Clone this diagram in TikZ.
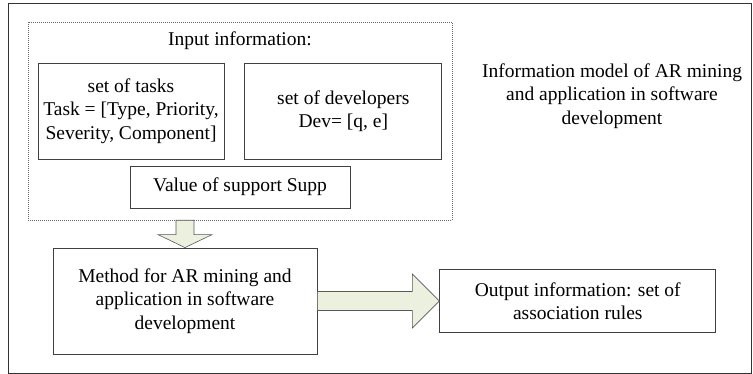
\documentclass[tikz,border=0pt]{standalone}
\usepackage{fontspec}
\setmainfont{Liberation Serif}
\usetikzlibrary{positioning,calc}
\definecolor{arrowfill}{HTML}{EBF1DE}

\begin{document}
\begin{tikzpicture}[x=1pt, y=-1pt,
    every node/.style = {font=\fontsize{19.5}{23.5}\selectfont, align=center},
    box/.style = {shape=rectangle, draw=black!75, line width=0.8pt, inner sep=2pt},
    inbox/.style = {shape=rectangle, draw=black!60, line width=0.6pt,
    dash pattern=on 1pt off 1pt},
    fat/.style = {draw=black!65, line width=0.6pt, fill=arrowfill, line join=miter}]

  \useasboundingbox (0,0) rectangle (753,374);
  \draw[draw=black!80, line width=1pt] (8,4) rectangle (751,373);

  % input block
  \node[inbox, minimum width=424pt, minimum height=198pt] (input) at (240,121) {};
  \node (inlabel) at (240,41) {Input information:};
  \node[box, minimum width=186pt, minimum height=96pt] (tasks) at (131,111)
    {set of tasks\\Task = [Type, Priority,\\Severity, Component]};
  \node[box, right=20pt of tasks, minimum width=197pt, minimum height=96pt] (devs)
    {set of developers\\Dev= [q, e]};
  \node[box, minimum width=220pt, minimum height=42pt] (supp) at (240,187)
    {Value of support Supp};

  \node (title) at (612,96)
    {Information model of AR mining\\and application in software\\development};

  % method and output
  \node[box, minimum width=264pt, minimum height=106pt] (method) at (185,301)
    {Method for AR mining and\\application in software\\development};
  \node[box, right=122pt of method, minimum width=276pt, minimum height=63pt] (output)
    {Output information: set of\\association rules};

  \coordinate (down) at (input.south -| method.north);
  \draw[fat] ($(down)+(-9,0)$) -- ($(down)+(9,0)$) -- ($(method.north)+(9,-13)$)
    -- ($(method.north)+(27,-13)$) -- (method.north) -- ($(method.north)+(-27,-13)$)
    -- ($(method.north)+(-9,-13)$) -- cycle;
  \draw[fat] ($(method.east)+(0,-9.5)$) -- ($(output.west)+(-27,-9.5)$)
    -- ($(output.west)+(-27,-27)$) -- (output.west) -- ($(output.west)+(-27,27)$)
    -- ($(output.west)+(-27,9.5)$) -- ($(method.east)+(0,9.5)$) -- cycle;

\end{tikzpicture}
\end{document}
